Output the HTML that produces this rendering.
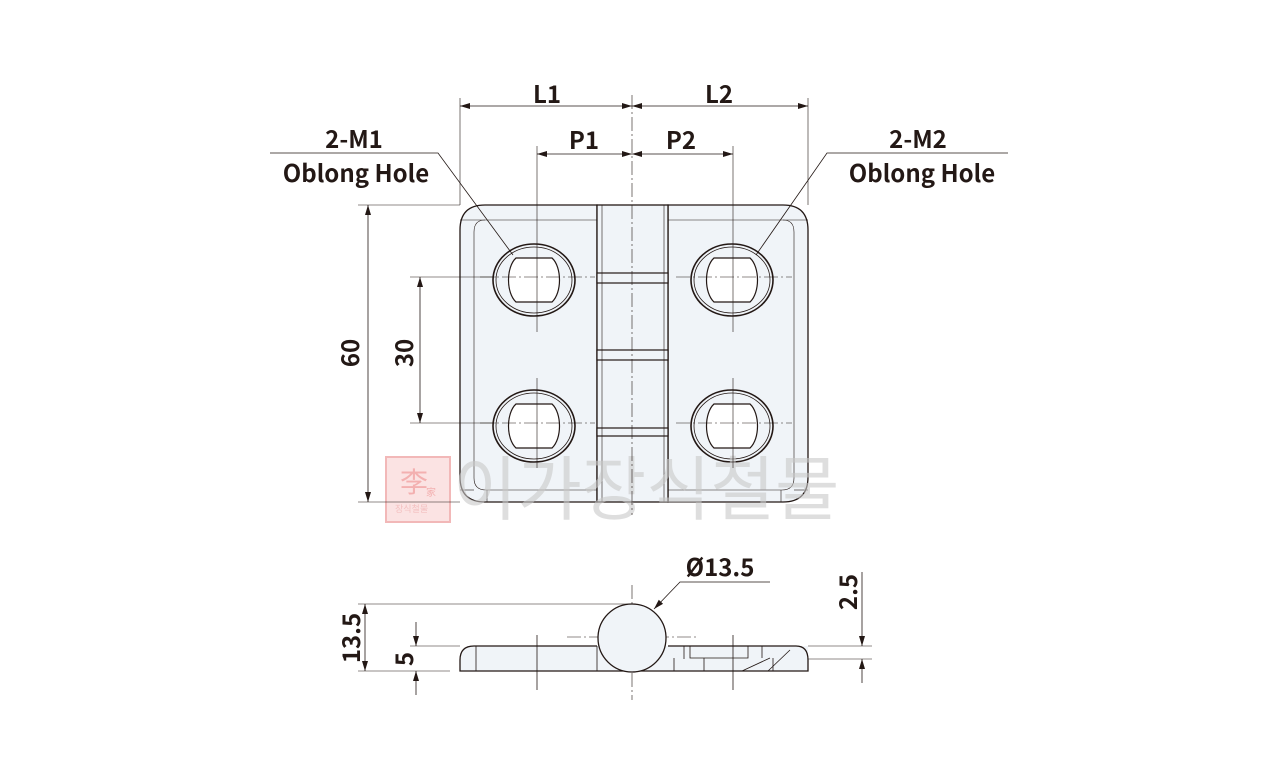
<!DOCTYPE html>
<html><head><meta charset="utf-8"><style>
html,body{margin:0;padding:0;background:#fff}
svg{display:block}
text{font-family:"Noto Sans CJK KR","Liberation Sans",sans-serif;font-weight:bold;fill:#231815}
</style></head><body>
<svg width="1266" height="768" viewBox="0 0 1266 768" xmlns="http://www.w3.org/2000/svg">
<defs>
<marker id="a" viewBox="0 0 10 6" refX="10" refY="3" markerWidth="10" markerHeight="6" orient="auto-start-reverse" markerUnits="userSpaceOnUse"><path d="M0,0 L10,3 L0,6 z" fill="#231815"/></marker>
<path id="slot" d="M-18,-22 H18 C28,-13 28,13 18,22 H-18 C-28,13 -28,-13 -18,-22 Z"/>
</defs>
<!-- watermark -->
<rect x="386" y="457" width="64" height="65" fill="#fbe3e3" stroke="#f2b8b8" stroke-width="2"/>
<text x="400" y="492" font-size="28" style="fill:#f3b0b0;font-weight:normal">李</text>
<text x="426" y="496" font-size="10" style="fill:#f3b0b0;font-weight:normal">家</text>
<text x="395" y="512" font-size="9" style="fill:#f3c0c0;font-weight:normal">장식철물</text>

<!-- top view plate -->
<g stroke="#231815" fill="#f0f4f8" stroke-width="1.3">
<path d="M485,205 H597 V502 H485 Q460,502 460,477 V230 Q460,205 485,205 Z"/>
<path d="M668,205 H783 Q808,205 808,230 V477 Q808,502 783,502 H668 Z"/>
<rect x="597" y="205" width="71" height="297"/>
</g>
<g stroke="#231815" fill="none" stroke-width="0.6">
<path d="M485,220 Q474,220 474,232 V478 Q474,490 486,490 H597"/>
<path d="M783,220 Q794,220 794,232 V478 Q794,490 782,490 H668"/>
<line x1="460" y1="220" x2="597" y2="220"/><line x1="668" y1="220" x2="808" y2="220"/>
<line x1="460" y1="490" x2="474" y2="490"/><line x1="794" y1="490" x2="808" y2="490"/>
<line x1="487" y1="490" x2="487" y2="502"/><line x1="781" y1="490" x2="781" y2="502"/>
</g>
<g stroke="#231815" stroke-width="1.2" fill="#f0f4f8">
<rect x="597" y="273" width="71" height="10"/>
<rect x="597" y="350" width="71" height="10"/>
<rect x="597" y="428" width="71" height="8"/>
</g>
<g stroke="#231815" stroke-width="0.6">
<line x1="602" y1="205" x2="602" y2="502"/><line x1="664" y1="205" x2="664" y2="502"/>
</g>
<!-- holes -->
<g stroke="#231815" fill="none">
<g transform="translate(534,280)"><ellipse rx="41" ry="36" stroke-width="1.6"/><ellipse rx="38" ry="33" stroke-width="0.8"/><use href="#slot" fill="#fff" stroke-width="1.2"/></g>
<g transform="translate(534,426)"><ellipse rx="41" ry="36" stroke-width="1.6"/><ellipse rx="38" ry="33" stroke-width="0.8"/><use href="#slot" fill="#fff" stroke-width="1.2"/></g>
<g transform="translate(732,280)"><ellipse rx="41" ry="36" stroke-width="1.6"/><ellipse rx="38" ry="33" stroke-width="0.8"/><use href="#slot" fill="#fff" stroke-width="1.2"/></g>
<g transform="translate(732,426)"><ellipse rx="41" ry="36" stroke-width="1.6"/><ellipse rx="38" ry="33" stroke-width="0.8"/><use href="#slot" fill="#fff" stroke-width="1.2"/></g>
</g>
<!-- watermark text -->
<text x="453" y="514" font-size="70" style="fill:#c8c8c8;fill-opacity:0.6;font-weight:normal">이가장식철물</text>

<!-- center lines -->
<g stroke="#231815" stroke-width="0.6" stroke-dasharray="14,3,2,3">
<line x1="632" y1="95" x2="632" y2="515"/>
<line x1="480" y1="277" x2="595" y2="277"/><line x1="480" y1="423" x2="595" y2="423"/>
<line x1="676" y1="277" x2="792" y2="277"/><line x1="676" y1="423" x2="792" y2="423"/>
<line x1="632" y1="585" x2="632" y2="700"/>
<line x1="567" y1="637" x2="697" y2="637"/>
</g>
<g stroke="#231815" stroke-width="0.6">
<line x1="537" y1="146" x2="537" y2="332"/><line x1="537" y1="378" x2="537" y2="468"/>
<line x1="733" y1="146" x2="733" y2="332"/><line x1="733" y1="378" x2="733" y2="468"/>
<line x1="460" y1="98" x2="460" y2="205"/><line x1="808" y1="98" x2="808" y2="205"/>
<line x1="358" y1="205" x2="460" y2="205"/><line x1="358" y1="502" x2="460" y2="502"/>
<line x1="410" y1="277" x2="496" y2="277"/><line x1="410" y1="423" x2="496" y2="423"/>
</g>
<!-- dimension lines -->
<g stroke="#231815" stroke-width="0.8" fill="none">
<line x1="460" y1="106" x2="632" y2="106" marker-start="url(#a)" marker-end="url(#a)"/>
<line x1="632" y1="106" x2="808" y2="106" marker-start="url(#a)" marker-end="url(#a)"/>
<line x1="537" y1="154" x2="632" y2="154" marker-start="url(#a)" marker-end="url(#a)"/>
<line x1="632" y1="154" x2="733" y2="154" marker-start="url(#a)" marker-end="url(#a)"/>
<line x1="368" y1="205" x2="368" y2="502" marker-start="url(#a)" marker-end="url(#a)"/>
<line x1="420" y1="277" x2="420" y2="423" marker-start="url(#a)" marker-end="url(#a)"/>
<polyline points="270,153 438,153 513,255"/>
<polyline points="1008,153 827,153 756,255"/>
</g>
<text x="547" y="103" font-size="24" text-anchor="middle">L1</text>
<text x="719" y="103" font-size="24" text-anchor="middle">L2</text>
<text x="584" y="149" font-size="24" text-anchor="middle">P1</text>
<text x="681" y="149" font-size="24" text-anchor="middle">P2</text>
<text x="354" y="148" font-size="24" text-anchor="middle">2-M1</text>
<text x="356" y="182" font-size="24" text-anchor="middle">Oblong Hole</text>
<text x="918" y="148" font-size="24" text-anchor="middle">2-M2</text>
<text x="922" y="182" font-size="24" text-anchor="middle">Oblong Hole</text>
<text transform="translate(359,353) rotate(-90)" font-size="24" text-anchor="middle">60</text>
<text transform="translate(413,353) rotate(-90)" font-size="24" text-anchor="middle">30</text>

<!-- side view -->
<g stroke="#231815" stroke-width="1.3" fill="#f0f4f8">
<path d="M474,646 H808 Q808,646 808,658 V671 H460 V660 Q460,646 474,646 Z" stroke="none"/>
<path d="M597,646 H474 Q460,646 460,660 V671 H808 V660 Q808,646 796,646 H668" fill="none"/>
<circle cx="632" cy="638" r="34"/>
</g>
<g stroke="#231815" stroke-width="0.8" fill="none">
<line x1="476" y1="646" x2="476" y2="671"/>
<line x1="597" y1="646" x2="597" y2="671"/>
<line x1="684" y1="646" x2="684" y2="659"/>
<polyline points="690,646 690,658 748,658 748,646"/>
<line x1="762" y1="646" x2="762" y2="658"/>
<line x1="674" y1="658" x2="674" y2="671"/>
<line x1="704" y1="658" x2="704" y2="671"/>
<line x1="773" y1="658" x2="773" y2="671"/>
<line x1="768" y1="671" x2="790" y2="650"/>
<line x1="742" y1="671" x2="770" y2="658"/>
<line x1="537" y1="635" x2="537" y2="690"/><line x1="733" y1="635" x2="733" y2="690"/>
</g>
<g stroke="#231815" stroke-width="0.6" fill="none">
<line x1="358" y1="604" x2="632" y2="604"/>
<line x1="358" y1="671" x2="450" y2="671"/>
<line x1="410" y1="646" x2="460" y2="646"/>
<line x1="808" y1="646" x2="872" y2="646"/>
<line x1="808" y1="659" x2="872" y2="659"/>
<line x1="365" y1="604" x2="365" y2="671" marker-start="url(#a)" marker-end="url(#a)" stroke-width="0.8"/>
<line x1="416" y1="622" x2="416" y2="646" marker-end="url(#a)" stroke-width="0.8"/>
<line x1="416" y1="695" x2="416" y2="671" marker-end="url(#a)" stroke-width="0.8"/>
<line x1="862" y1="572" x2="862" y2="646" marker-end="url(#a)" stroke-width="0.8"/>
<line x1="862" y1="683" x2="862" y2="659" marker-end="url(#a)" stroke-width="0.8"/>
<polyline points="770,582 680,582 654,609" stroke-width="0.8" marker-end="url(#a)"/>
</g>
<text x="720" y="576" font-size="24" text-anchor="middle">Ø13.5</text>
<text transform="translate(360,638) rotate(-90)" font-size="24" text-anchor="middle">13.5</text>
<text transform="translate(413,659) rotate(-90)" font-size="24" text-anchor="middle">5</text>
<text transform="translate(857,592) rotate(-90)" font-size="24" text-anchor="middle">2.5</text>
</svg>
</body></html>
